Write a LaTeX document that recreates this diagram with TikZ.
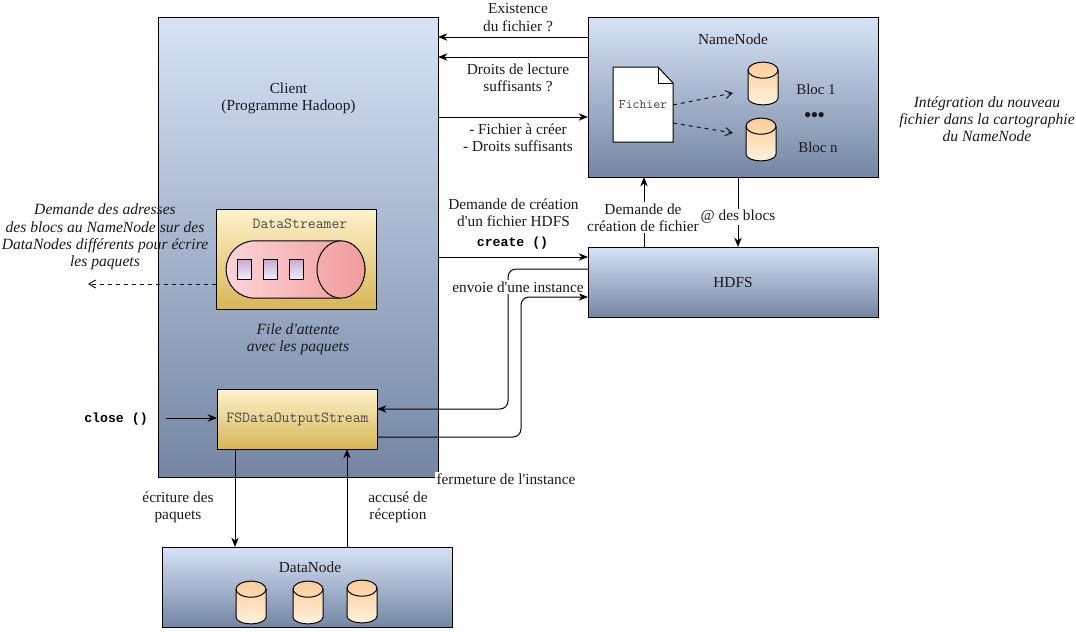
\documentclass[tikz,border=0pt]{standalone}
\usepackage{fontspec}
\setmainfont{Liberation Serif}
\newfontfamily\cmdfont{Liberation Mono}
\usetikzlibrary{arrows.meta,shadings}
\definecolor{inkc}{HTML}{1A1A1A}
\definecolor{monoc}{HTML}{4A4A4A}
\newcommand{\qs}{\textquotesingle}
\tikzset{
  lbl/.style={align=center,inner sep=0pt,text=inkc,font=\fontsize{11.5}{12.9}\selectfont},
  blocl/.style={lbl,font=\fontsize{11.2}{12.9}\selectfont},
  wlbl/.style={lbl,fill=white,inner sep=1pt},
  itl/.style={lbl,font=\fontsize{11.7}{12.9}\selectfont\itshape},
  mono/.style={inner sep=0pt,text=monoc,font=\ttfamily\fontsize{11.5}{12}\selectfont},
  cmd/.style={inner sep=0pt,text=black,font=\cmdfont\bfseries\fontsize{9.9}{12}\selectfont},
  bluebox/.style={draw=black,line width=0.75pt,top color=blueT,bottom color=blueB,inner sep=0pt,outer sep=0pt},
  yelbox/.style={draw=black,line width=0.75pt,top color=yelT,bottom color=yelB,inner sep=0pt,outer sep=0pt},
  conn/.style={draw=black,line width=0.75pt,-{Stealth[length=7pt,width=5.5pt]}},
  dashconn/.style={draw=inkc,line width=0.75pt,dash pattern=on 3pt off 3pt,-{Straight Barb[length=5pt,width=6pt]}},
  curved/.style={rounded corners=6pt},
  cylbody/.style={draw=black,line width=0.75pt,top color=cylT,bottom color=cylB},
  slot/.style={draw=black,line width=0.75pt,top color=slotT,bottom color=slotB,inner sep=0pt,outer sep=0pt,minimum width=10.5pt,minimum height=15pt},
}
\definecolor{blueT}{HTML}{D6E3F6}
\definecolor{blueB}{HTML}{7486A3}
\definecolor{yelT}{HTML}{FFF2CC}
\definecolor{yelB}{HTML}{D6B656}
\definecolor{cylT}{HTML}{FFCC99}
\definecolor{cylB}{HTML}{FFF2DC}
\definecolor{slotT}{HTML}{C3ABD0}
\definecolor{slotB}{HTML}{F2ECF8}
\definecolor{pillL}{HTML}{FBD3D8}
\definecolor{pillR}{HTML}{F19C9C}
% #1 name, #2 left x, #3 top y
\newcommand{\cylinder}[3]{%
  \node[inner sep=0pt,outer sep=0pt,minimum width=22.5pt,minimum height=32pt] (#1) at (#2+15,#3+21.5) {};
  \path[cylbody] (#1.north west) ++(0,-6pt)
     arc[start angle=180,end angle=0,x radius=11.25pt,y radius=6pt]
     -- ++(0,-21pt)
     arc[start angle=0,end angle=-180,x radius=11.25pt,y radius=5pt] -- cycle;
  \draw[black,line width=0.75pt] (#1.north west) ++(0,-6pt)
     arc[start angle=180,end angle=360,x radius=11.25pt,y radius=6pt];
}
\begin{document}
\begin{tikzpicture}[x=0.75pt,y=-0.75pt]
\useasboundingbox (0,0) rectangle (1076,632);
% main boxes
\node[bluebox,minimum width=210pt,minimum height=345pt] (client) at (298,247) {};
\node[bluebox,minimum width=217.5pt,minimum height=120pt] (nn) at (733,97) {};
\node[bluebox,minimum width=217.5pt,minimum height=52.5pt] (hdfs) at (733,282) {};
\node[bluebox,minimum width=217.5pt,minimum height=60pt] (dn) at (307,587) {};
\node[yelbox,minimum width=120pt,minimum height=75pt] (ds) at (296,259) {};
\node[yelbox,minimum width=120pt,minimum height=45pt] (fs) at (297,419) {};
% connectors
\draw[conn] (nn.west |- 0,37) -- (client.east |- 0,37);
\draw[conn] (nn.west |- 0,57) -- (client.east |- 0,57);
\draw[conn] (client.east |- 0,117) -- (nn.west |- 0,117);
\draw[conn] (client.east |- 0,257) -- (hdfs.west |- 0,257);
\draw[conn,curved] (hdfs.west |- 0,269) -| (508,409) -- (fs.east |- 0,409);
\draw[conn,curved] (fs.east |- 0,437) -| (521,297) -- (hdfs.west |- 0,297);
\draw[conn] (hdfs.north -| 644,0) -- (nn.south -| 644,0);
\draw[conn] (nn.south -| 738,0) -- (hdfs.north -| 738,0);
\draw[conn] (fs.south -| 235,0) -- (dn.north -| 235,0);
\draw[conn] (dn.north -| 347,0) -- (fs.south -| 347,0);
\coordinate (closeS) at (166,418);
\draw[conn] (closeS) -- (fs.west |- closeS);
\coordinate (dsOut) at (88,284);
\draw[dashconn] (ds.west |- dsOut) -- (dsOut);
% pill
\node[inner sep=0pt,outer sep=0pt,minimum width=104pt,minimum height=43pt] (pill) at (295.5,269.5) {};
\path[draw=black,line width=0.75pt,left color=pillL,right color=pillR,rounded corners=21.4pt]
  (pill.south west) rectangle (pill.north east);
\draw[black,line width=0.75pt,left color=pillR!70!pillL,right color=pillR] (341,269.5) ellipse[x radius=18pt,y radius=21.5pt];
\node[slot] (s1) at (244,269) {};
\node[slot] (s2) at (270,269) {};
\node[slot] (s3) at (296,269) {};
% document
\node[inner sep=0pt,outer sep=0pt,minimum width=45pt,minimum height=56.25pt] (doc) at (643,104.5) {};
\path[draw=black,line width=0.75pt,fill=white] (613,67) -- (658,67) -- (673,83) -- (673,142) -- (613,142) -- cycle;
\draw[black,line width=0.75pt] (658,67) -- (658,83) -- (673,83);
\node[mono,font=\ttfamily\fontsize{9.8}{10}\selectfont] (fichier) at (643,105) {Fichier};
% cylinders
\cylinder{c1}{748}{62}
\cylinder{c2}{746}{118}
\cylinder{d1}{236}{581}
\cylinder{d2}{293}{581}
\cylinder{d3}{347}{580}
\draw[dashconn] (doc.east |- 0,105) -- (733,93);
\draw[dashconn] (doc.east |- 0,123) -- (733,133);
% text
\node[lbl] (tnn) at (733,39) {NameNode};
\node[lbl] (thdfs) at (733,282.5) {HDFS};
\node[lbl] (tdn) at (310,567) {DataNode};
\node[lbl] (tclient) at (288.5,98.5) {Client\\(Programme Hadoop)};
\node[blocl] (b1) at (816,89) {Bloc 1};
\node[blocl] (bn) at (818,147) {Bloc n};
\node[lbl,font=\fontsize{14.5}{14.5}\selectfont\bfseries] (dots) at (814.5,116.5) {•••};
\node[mono] (tds) at (300,224) {DataStreamer};
\node[mono] (tfs) at (297.5,419) {FSDataOutputStream};
\node[itl] (tfile) at (298,339.5) {File d\qs attente\\avec les paquets};
\node[lbl] (l1) at (518,17.5) {Existence\\du fichier ?};
\node[lbl] (l2) at (518,77.5) {Droits de lecture\\suffisants ?};
\node[lbl] (l3) at (518,137.5) {- Fichier à créer\\- Droits suffisants};
\node[lbl] (l4) at (513.5,212.5) {Demande de création\\d\qs un fichier HDFS};
\node[cmd] (tcreate) at (512.5,243) {create ()};
\node[wlbl] (l5) at (643,217.5) {Demande de\\création de fichier};
\node[wlbl] (l6) at (738,217) {@ des blocs};
\node[wlbl] (l7) at (518,287) {envoie d\qs une instance};
\node[wlbl] (l8) at (506,479) {fermeture de l\qs instance};
\node[lbl] (l9) at (178,507.5) {écriture des\\paquets};
\node[lbl] (l10) at (398,507.5) {accusé de\\réception};
\node[cmd] (tclose) at (116,419) {close ()};
\node[itl] (tleft) at (105,237) {Demande des adresses\\des blocs au NameNode sur des\\DataNodes différents pour écrire\\les paquets};
\node[itl] (tright) at (987,119) {Intégration du nouveau\\fichier dans la cartographie\\du NameNode};
\end{tikzpicture}
\end{document}
